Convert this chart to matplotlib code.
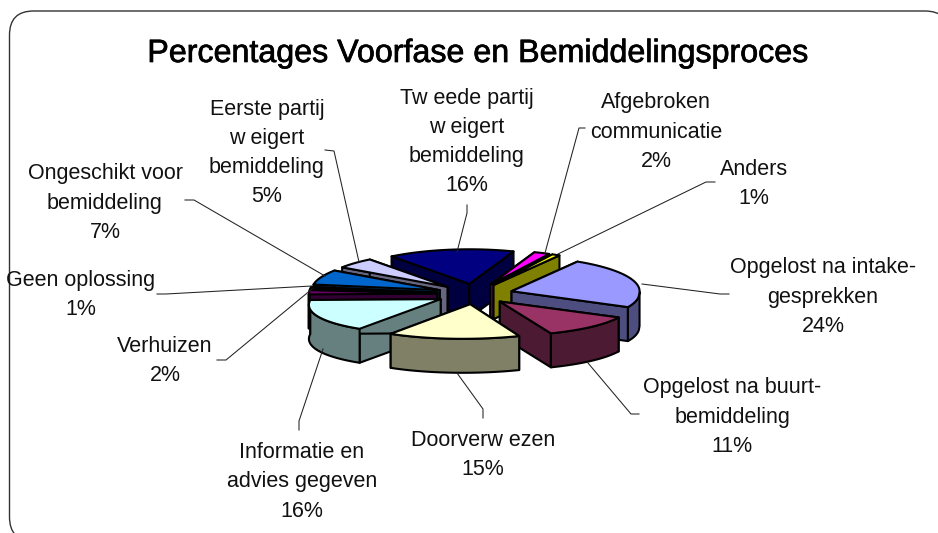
import numpy as np
import matplotlib
matplotlib.use("Agg")
import matplotlib.pyplot as plt
import matplotlib.patheffects as pe
from matplotlib.patches import Polygon, FancyBboxPatch

title = "Percentages Voorfase en Bemiddelingsproces"
labels = ["Opgelost na intake-\ngesprekken", "Opgelost na buurt-\nbemiddeling", "Doorverw ezen",
          "Informatie en\nadvies gegeven", "Verhuizen", "Geen oplossing",
          "Ongeschikt voor\nbemiddeling", "Eerste partij\nw eigert\nbemiddeling",
          "Tw eede partij\nw eigert\nbemiddeling", "Afgebroken\ncommunicatie", "Anders"]
values = [24, 11, 15, 16, 2, 1, 7, 5, 16, 2, 1]
top_colors = ["#9999FF", "#993366", "#FFFFCC", "#CCFFFF", "#660066", "#FF8080",
              "#0066CC", "#CCCCFF", "#000080", "#FF00FF", "#FFFF00"]
wall_colors = ["#4D4D80", "#4D1A33", "#808066", "#668080", "#330033", "#804040",
               "#003366", "#666680", "#000040", "#800080", "#808000"]

# layout (pixels)
CX, CY, RX, K, EXPL, DEPTH, START = 475, 294, 128, 0.27, 38, 34, 31
VX, PERSP = 550, 0.095
label_pos = [(823, 297), (732, 417), (483, 455), (302, 482), (165, 361), (81, 295),
             (105, 203), (267, 153), (467, 142), (656, 132), (754, 184)]
leaders = [[(729, 294), (720, 294), (642, 284)], [(639, 414), (631, 414), (588, 363)],
           [(483, 418), (483, 409), (457, 373)], [(299, 430), (299, 421), (323, 349)],
           [(217, 360), (226, 360), (312, 289)], [(157, 294), (166, 294), (312, 286)],
           [(185, 200), (194, 200), (325, 276)], [(325, 150), (334, 151), (359, 262)],
           [(467, 205), (467, 213), (457, 252)], [(585, 128), (579, 128), (545, 253)],
           [(715, 182), (706, 182), (558, 254)]]

plt.rcParams["font.family"] = ["Liberation Sans", "DejaVu Sans"]
fig = plt.figure(figsize=(9.38, 5.33), dpi=100)
ax = fig.add_axes([0, 0, 1, 1])
ax.set_xlim(0, 938)
ax.set_ylim(533, 0)
ax.axis("off")

ax.add_patch(FancyBboxPatch((9.5 + 24, 11 + 24), 949 - 9.5 - 48, 541 - 11 - 48,
                            boxstyle="round,pad=24,rounding_size=24",
                            fc="white", ec="#333333", lw=1.0, zorder=0))

fr = np.array(values, float) / sum(values) * 360
starts = START + np.concatenate([[0], np.cumsum(fr)[:-1]])
LW = 1.5

def warp(x, y):
    """Mild foreshortening: parts of the pie near the viewer spread out."""
    d = np.clip((np.asarray(y) - CY) / (RX * K), 0, None)
    return np.asarray(x) + (np.asarray(x) - VX) * PERSP * d, y

def pt(a, r, off):
    a = np.radians(a)
    return warp(off[0] + r * RX * np.sin(a), off[1] - r * RX * K * np.cos(a))

order = sorted(range(len(values)), key=lambda i: -np.cos(np.radians(starts[i] + fr[i] / 2)))
z = 2
for i in order:
    a0, a1 = starts[i], starts[i] + fr[i]
    m = np.radians((a0 + a1) / 2)
    off = (CX + EXPL * np.sin(m), CY - EXPL * K * np.cos(m))
    apex = tuple(float(v) for v in warp(*off))
    arc = np.linspace(a0, a1, 60)
    xs, ys = pt(arc, 1, off)
    for a in (a0, a1):
        x, y = pt(a, 1, off)
        ax.add_patch(Polygon([apex, (x, y), (x, y + DEPTH), (apex[0], apex[1] + DEPTH)], closed=True,
                             fc=wall_colors[i], ec="black", lw=LW, joinstyle="round", zorder=z))
        z += 1
    aa = np.mod(arc, 360)
    vis = (aa > 90) & (aa < 270)
    if vis.any():
        wx, wy = xs[vis], ys[vis]
        ax.add_patch(Polygon(np.r_[np.c_[wx, wy], np.c_[wx[::-1], wy[::-1] + DEPTH]], closed=True,
                             fc=wall_colors[i], ec="black", lw=LW, joinstyle="round", zorder=z))
        z += 1
    ax.add_patch(Polygon(np.r_[[apex], np.c_[xs, ys]], closed=True, fc=top_colors[i], ec="black",
                         lw=LW, joinstyle="round", zorder=z))
    z += 1

for lab, v, p, l in zip(labels, values, label_pos, leaders):
    ax.text(p[0], p[1], f"{lab}\n{v}%", ha="center", va="center", ma="center",
            fontsize=15.5, linespacing=1.52, color="#111111", zorder=200)
    ax.plot(*zip(*l), color="#222222", lw=0.75, zorder=199, solid_joinstyle="miter")

t = ax.text(478, 54, title, ha="center", va="center", fontsize=23.2, color="black", zorder=200)
t.set_path_effects([pe.withStroke(linewidth=0.5, foreground="black")])
fig.savefig("out.png", dpi=100)
